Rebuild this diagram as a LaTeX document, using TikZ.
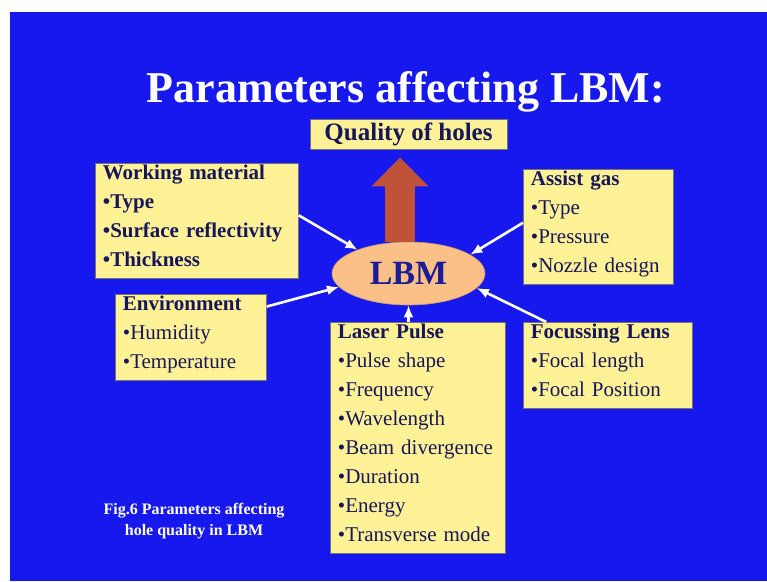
\documentclass[tikz,border=0pt]{standalone}
\usepackage{fontspec}
\setmainfont{Liberation Serif}
\usetikzlibrary{positioning, arrows.meta, shapes.geometric}

\definecolor{slideblue}{RGB}{22,24,238}
\definecolor{boxyellow}{RGB}{255,242,150}
\definecolor{inkblue}{RGB}{22,22,90}
\definecolor{lbmorange}{RGB}{250,192,135}
\definecolor{lbmtext}{RGB}{28,28,150}
\definecolor{arrowred}{RGB}{192,82,58}

% bottom gap under the last line of a box
\newcommand{\boxgap}{\rule[-9pt]{0pt}{9pt}}

\begin{document}
\begin{tikzpicture}[x=1pt, y=-1pt, >=Latex]

\tikzset{
  parbox/.style={
    rectangle, draw=black!55, line width=0.8pt, fill=boxyellow,
    anchor=north west, align=left, text=inkblue,
    inner xsep=7.5pt, inner ysep=2pt,
    font=\fontsize{21}{29}\selectfont
  },
  qbox/.style={
    rectangle, draw=black!55, line width=0.8pt, fill=boxyellow,
    text=inkblue, minimum width=197pt, minimum height=30pt,
    font=\bfseries\fontsize{25}{25}\selectfont
  },
  hub/.style={
    ellipse, fill=lbmorange, draw=lbmorange!80!black, line width=0.6pt,
    minimum width=153pt, minimum height=63pt, text=lbmtext,
    font=\bfseries\fontsize{34}{34}\selectfont
  },
  fatarrow/.style={
    arrowred, line width=30pt,
    -{Triangle[length=29pt,width=55pt]}
  },
  arrow/.style={-{Latex[length=12pt,width=10pt]}, white, line width=2.6pt},
  slidetext/.style={text=white, font=\bfseries}
}

% slide background
\fill[white] (0,0) rectangle (767,581);
\fill[slideblue] (10,12) rectangle (767,581);
\useasboundingbox (0,0) rectangle (767,581);

% =========================================================
% Title, target and hub
% =========================================================
\node[slidetext, font=\bfseries\fontsize{44}{44}\selectfont] (ttl) at (406,92) {Parameters affecting LBM:};
\node[qbox] (qual) at (408.5,134) {Quality of holes};
\node[hub] (lbm) at (408.5,273.5) {LBM};
\draw[fatarrow, shorten >=8pt] ([xshift=-8.5pt]lbm.north) -- ([xshift=-8.5pt]qual.south);

% =========================================================
% Parameter boxes
% =========================================================
\node[parbox, text width=188pt] (wm) at (95,163)
{\textbf{Working material}\\\textbf{•Type}\\\textbf{•Surface reflectivity}\\\textbf{•Thickness}\boxgap};
\node[parbox, text width=136pt] (env) at (115,294)
{\textbf{Environment}\\•Humidity\\•Temperature\boxgap};
\node[parbox, text width=135pt] (ag) at (523,169)
{\textbf{Assist gas}\\•Type\\•Pressure\\•Nozzle design\boxgap};
\node[parbox, text width=154pt] (fl) at (523,322)
{\textbf{Focussing Lens}\\•Focal length\\•Focal Position\boxgap};
\node[parbox, text width=160pt] (lp) at (330,322)
{\textbf{Laser Pulse}\\•Pulse shape\\•Frequency\\•Wavelength\\•Beam divergence\\•Duration\\•Energy\\•Transverse mode\boxgap};

% =========================================================
% Connectors into LBM
% =========================================================
\draw[arrow] (wm.3) -- (lbm.155);
\draw[arrow] (env.22) -- (lbm.191);
\draw[arrow] (ag.177) -- (lbm.17);
\draw[arrow] (fl.145) -- (lbm.348);
\draw[arrow] (lbm.south |- lp.north) -- (lbm.south);

% caption
\node[slidetext, align=center, font=\bfseries\fontsize{16}{21}\selectfont] (cap) at (194,521)
{Fig.6 Parameters affecting\\hole quality in LBM};

\end{tikzpicture}
\end{document}
